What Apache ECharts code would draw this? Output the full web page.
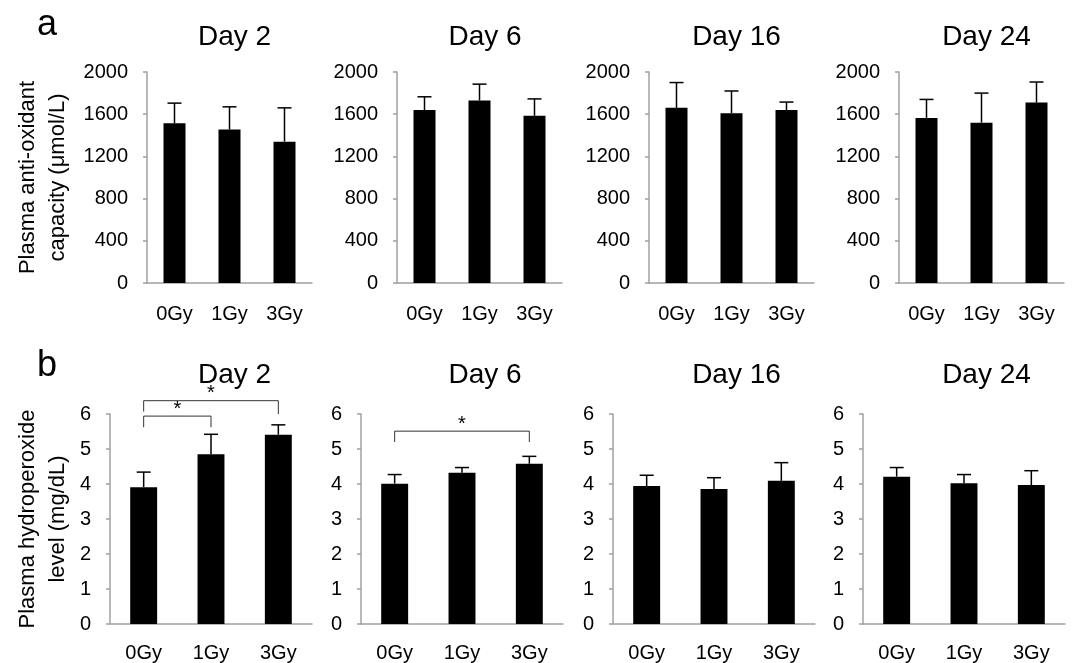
<!DOCTYPE html>
<html><head><meta charset="utf-8">
<script src="https://cdn.jsdelivr.net/npm/echarts@6/dist/echarts.min.js"></script>
<style>html,body{margin:0;padding:0;background:#fff}#c{width:1072px;height:663px}</style>
</head><body><div id="c"></div>
<script>
const categories = ['0Gy', '1Gy', '3Gy'];
const dayTitles = ['Day 2', 'Day 6', 'Day 16', 'Day 24'];

// a: plasma anti-oxidant capacity (µmol/L), mean and SD
const capDay2 = [1515, 1455, 1340];  const capDay2Err = [190, 215, 320];
const capDay6 = [1640, 1730, 1585];  const capDay6Err = [125, 155, 160];
const capDay16 = [1660, 1610, 1640]; const capDay16Err = [240, 210, 75];
const capDay24 = [1565, 1520, 1710]; const capDay24Err = [175, 280, 195];

// b: plasma hydroperoxide level (mg/dL), mean and SD
const hpoDay2 = [3.91, 4.85, 5.41];  const hpoDay2Err = [0.43, 0.57, 0.28];
const hpoDay6 = [4.01, 4.32, 4.58];  const hpoDay6Err = [0.26, 0.15, 0.21];
const hpoDay16 = [3.94, 3.86, 4.09]; const hpoDay16Err = [0.31, 0.32, 0.52];
const hpoDay24 = [4.21, 4.02, 3.97]; const hpoDay24Err = [0.26, 0.25, 0.41];

// significance brackets: [fromCat, toCat, lineValue, legEndFrom, legEndTo]
const sigDay2 = [[0, 1, 5.94, 5.62, 5.62], [0, 2, 6.38, 6.07, 6.0]];
const sigDay6 = [[0, 2, 5.51, 5.20, 5.20]];
const sigDay16 = [];
const sigDay24 = [];

const capMax = 2000, capInterval = 400;
const hpoMax = 6, hpoInterval = 1;

const capMeans = [capDay2, capDay6, capDay16, capDay24];
const capErrs = [capDay2Err, capDay6Err, capDay16Err, capDay24Err];
const hpoMeans = [hpoDay2, hpoDay6, hpoDay16, hpoDay24];
const hpoErrs = [hpoDay2Err, hpoDay6Err, hpoDay16Err, hpoDay24Err];
const sigs = [sigDay2, sigDay6, sigDay16, sigDay24];

const FONT = 'Liberation Sans, Arial, sans-serif';
const AXIS_COLOR = '#a0a0a0';

const topLefts = [147, 397, 649, 899], topWidth = 165;
const botLefts = [110, 361, 613, 863], botWidth = 202;
const titleCenters = [229.5, 480, 731.5, 981.5];

const grids = [], xAxes = [], yAxes = [], series = [], titles = [];

function errRender(params, api) {
  const p0 = api.coord([api.value(0), api.value(1)]);
  const p1 = api.coord([api.value(0), api.value(2)]);
  const half = 7;
  return {
    type: 'group',
    children: [
      { type: 'line', shape: { x1: p0[0], y1: p0[1], x2: p1[0], y2: p1[1] }, style: { stroke: '#000', lineWidth: 1.5 } },
      { type: 'line', shape: { x1: p1[0] - half, y1: p1[1], x2: p1[0] + half, y2: p1[1] }, style: { stroke: '#000', lineWidth: 1.5 } }
    ]
  };
}

function sigRender(params, api) {
  const a = api.coord([api.value(0), api.value(3)]);
  const b = api.coord([api.value(1), api.value(4)]);
  const yl = api.coord([api.value(0), api.value(2)])[1];
  const xa = a[0], xb = b[0];
  return {
    type: 'group',
    children: [
      { type: 'polyline', shape: { points: [[xa, a[1]], [xa, yl], [xb, yl], [xb, b[1]]] }, style: { stroke: '#333', lineWidth: 1, fill: null } },
      { type: 'text', style: { text: '*', x: (xa + xb) / 2, y: yl - 7, align: 'center', verticalAlign: 'middle', fontSize: 20, fontFamily: FONT, fill: '#000' } }
    ]
  };
}

function addPanel(idx, left, width, top, max, interval, means, errs, sig, yName, nameGap, yMargin, xMargin) {
  grids.push({ left: left, top: top, width: width, height: 211 });
  xAxes.push({
    type: 'category', gridIndex: idx, data: categories,
    axisLine: { lineStyle: { color: AXIS_COLOR, width: 1.5 } },
    axisTick: { length: 5, lineStyle: { color: AXIS_COLOR, width: 1.5 } },
    axisLabel: { color: '#000', fontSize: 20, fontFamily: FONT, margin: xMargin }
  });
  yAxes.push({
    type: 'value', gridIndex: idx, min: 0, max: max, interval: interval,
    axisLine: { show: true, lineStyle: { color: AXIS_COLOR, width: 1.5 } },
    axisTick: { show: true, length: 4, lineStyle: { color: AXIS_COLOR, width: 1.5 } },
    splitLine: { show: false },
    axisLabel: { color: '#000', fontSize: 20, fontFamily: FONT, margin: yMargin, formatter: v => String(v) },
    name: yName || '', nameLocation: 'middle', nameRotate: 90, nameGap: nameGap || 0,
    nameTextStyle: { color: '#000', fontSize: 22, fontFamily: FONT, lineHeight: 30 }
  });
  series.push({
    type: 'bar', xAxisIndex: idx, yAxisIndex: idx, data: means, barWidth: '40%',
    itemStyle: { color: '#000' }, silent: true, z: 2
  });
  series.push({
    type: 'custom', xAxisIndex: idx, yAxisIndex: idx, renderItem: errRender, z: 3, silent: true,
    encode: { x: 0, y: [1, 2] },
    data: means.map((m, i) => [i, m, m + errs[i]])
  });
  if (sig && sig.length) {
    series.push({
      type: 'custom', xAxisIndex: idx, yAxisIndex: idx, renderItem: sigRender, z: 4, silent: true, clip: false,
      encode: { x: [0, 1], y: [2, 3, 4] },
      data: sig
    });
  }
}

const titleStyle = { fontSize: 28, fontWeight: 'normal', color: '#000', fontFamily: FONT };
for (let d = 0; d < 4; d++) {
  addPanel(d, topLefts[d], topWidth, 72, capMax, capInterval, capMeans[d], capErrs[d], null,
    d === 0 ? 'Plasma anti-oxidant\ncapacity (μmol/L)' : '', 74, 19, 21);
  titles.push({ text: dayTitles[d], left: titleCenters[d], top: 18, textAlign: 'center', textStyle: titleStyle });
}
for (let d = 0; d < 4; d++) {
  addPanel(4 + d, botLefts[d], botWidth, 414, hpoMax, hpoInterval, hpoMeans[d], hpoErrs[d], sigs[d],
    d === 0 ? 'Plasma hydroperoxide\nlevel (mg/dL)' : '', 37, 19, 19);
  titles.push({ text: dayTitles[d], left: titleCenters[d], top: 356, textAlign: 'center', textStyle: titleStyle });
}
titles.push({ text: 'a', left: 32, top: 2, textStyle: { fontSize: 36, fontWeight: 'normal', color: '#000', fontFamily: FONT } });
titles.push({ text: 'b', left: 32, top: 343, textStyle: { fontSize: 36, fontWeight: 'normal', color: '#000', fontFamily: FONT } });

const chart = echarts.init(document.getElementById('c'), null, { renderer: 'canvas' });
chart.setOption({
  animation: false,
  backgroundColor: '#fff',
  title: titles,
  grid: grids,
  xAxis: xAxes,
  yAxis: yAxes,
  series: series
});
</script>
</body></html>
